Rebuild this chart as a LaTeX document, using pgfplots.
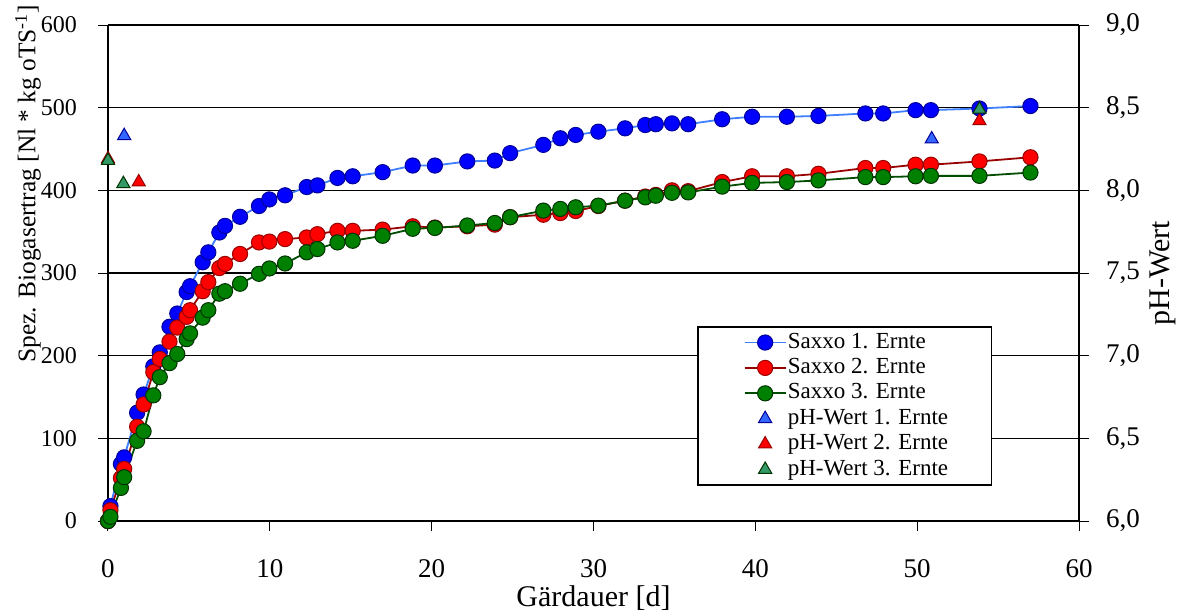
\documentclass[border=0pt]{standalone}
\usepackage{fontspec}
\setmainfont{Liberation Serif}
\usepackage{pgfplots}
\pgfplotsset{compat=1.18}
\definecolor{bline}{HTML}{3F7FFF}
\definecolor{bfill}{HTML}{0000FF}
\definecolor{bdraw}{HTML}{000099}
\definecolor{rline}{HTML}{990000}
\definecolor{rfill}{HTML}{FF0000}
\definecolor{rdraw}{HTML}{990000}
\definecolor{gline}{HTML}{004D00}
\definecolor{gfill}{HTML}{008000}
\definecolor{gdraw}{HTML}{003300}
\definecolor{pbfill}{HTML}{3366FF}
\definecolor{pgfillc}{HTML}{339966}
\begin{document}
\begin{tikzpicture}[font=\fontsize{11.5}{13}\selectfont]
\pgfplotsset{
  myaxis/.style={
    scale only axis, width=485.5pt, height=248pt,
    xmin=0, xmax=60,
    tick align=outside, major tick length=5pt,
    tick style={black, line width=0.5pt},
    axis line style={black, line width=1pt},
    /pgf/number format/assume math mode=true,
    clip=false,
  }
}
\begin{axis}[myaxis,
  ymin=0, ymax=600,
  axis x line*=bottom, axis y line*=left,
  xtick={0,10,...,60}, ytick={0,100,...,600},
  ymajorgrids, major grid style={black, line width=0.6pt},
  xticklabel style={yshift=-10.75pt, font=\fontsize{13.5}{15}\selectfont},
  yticklabel style={xshift=-7pt, font=\fontsize{12}{14}\selectfont},
  xlabel={Gärdauer [d]},
  xlabel style={at={(axis description cs:0.5,0)}, anchor=center, yshift=-38.5pt, font=\fontsize{15}{17}\selectfont},
  ylabel={Spez. Biogasertrag [Nl * kg oTS\textsuperscript{-1}]},
  ylabel style={at={(axis description cs:0,0.68)}, anchor=center, yshift=40pt, font=\fontsize{12.7}{15}\selectfont},
]
\addplot[color=bline, line width=0.9pt, mark=*, mark size=3.8pt, mark options={fill=bfill, draw=bdraw, line width=0.5pt}] coordinates {
(0,0) (0.15,18) (0.8,69) (1.0,77) (1.8,131) (2.2,153) (2.8,187) (3.2,204) (3.8,235) (4.28,251) (4.86,277) (5.07,284) (5.85,313) (6.2,325) (6.88,349) (7.23,357) (8.16,368) (9.33,381) (9.97,389) (10.94,394) (12.28,404) (12.94,406) (14.18,415) (15.12,417) (16.97,422) (18.83,430) (20.2,430) (22.2,435) (23.9,436) (24.85,445) (26.9,455) (27.95,463) (28.9,467) (30.3,471) (31.95,475) (33.2,479) (33.85,480) (34.85,481) (35.85,480) (37.95,486) (39.8,489) (41.95,489) (43.9,490) (46.8,493) (47.9,493) (49.9,497) (50.85,497) (53.85,499) (57.0,502)
};
\addplot[color=rline, line width=0.9pt, mark=*, mark size=3.8pt, mark options={fill=rfill, draw=rdraw, line width=0.5pt}] coordinates {
(0,0) (0.15,13) (0.8,52) (1.0,63) (1.8,114) (2.2,141) (2.8,180) (3.2,196) (3.8,217) (4.28,234) (4.86,247) (5.07,255) (5.85,278) (6.2,289) (6.88,306) (7.23,311) (8.16,323) (9.33,337) (9.97,338) (10.94,341) (12.28,343) (12.94,347) (14.18,351) (15.12,351) (16.97,352.5) (18.83,356.5) (20.2,355) (22.2,356.5) (23.9,358.5) (24.85,367.5) (26.9,370.5) (27.95,372.5) (28.9,375) (30.3,381) (31.95,387.5) (33.2,392.5) (33.85,394.5) (34.85,400) (35.85,399) (37.95,410) (39.8,417) (41.95,417) (43.9,420) (46.8,427) (47.9,427) (49.9,431) (50.85,431) (53.85,435) (57.0,440)
};
\addplot[color=gline, line width=0.9pt, mark=*, mark size=3.8pt, mark options={fill=gfill, draw=gdraw, line width=0.5pt}] coordinates {
(0,0) (0.15,5) (0.8,40) (1.0,53) (1.8,97) (2.2,108.5) (2.8,152) (3.2,174) (3.8,191) (4.28,202) (4.86,220) (5.07,227) (5.85,246) (6.2,255) (6.88,275) (7.23,278) (8.16,287) (9.33,299) (9.97,305.5) (10.94,311.5) (12.28,325) (12.94,329) (14.18,337) (15.12,339) (16.97,345) (18.83,353.5) (20.2,354.5) (22.2,357.5) (23.9,360.5) (24.85,367.5) (26.9,375.5) (27.95,377.5) (28.9,379.5) (30.3,381.5) (31.95,387.5) (33.2,391.5) (33.85,393.5) (34.85,397) (35.85,397.5) (37.95,404.5) (39.8,409) (41.95,410) (43.9,412) (46.8,416) (47.9,416) (49.9,417) (50.85,417.5) (53.85,417.5) (57.0,421.5)
};
\end{axis}
\begin{axis}[myaxis,
  ymin=6, ymax=9,
  axis y line*=right, axis x line=none,
  ytick={6,6.5,...,9},
  yticklabel style={/pgf/number format/.cd, fixed, fixed zerofill, precision=1, use comma, /tikz/.cd, xshift=5pt, font=\fontsize{13.5}{15}\selectfont},
  ylabel={pH-Wert},
  ylabel style={at={(axis description cs:1,0.5)}, anchor=center, yshift=-42pt, font=\fontsize{15}{17}\selectfont},
  legend image code/.code={\path (-2pt,0pt); \draw[mark repeat=2,mark phase=2,#1] plot coordinates {(0pt,0pt) (10.25pt,0pt) (20.5pt,0pt)};},
  legend cell align=left,
  legend style={at={(axis description cs:0.6066,0.393)}, anchor=north west, draw=black, line width=0.75pt, inner xsep=21pt, inner ysep=1.5pt, row sep=0pt,
    nodes={inner sep=0.6pt, text height=8.5pt, text depth=3pt, line width=0.5pt},
    font=\fontsize{11.5}{13}\selectfont},
]
\addlegendimage{color=bline, line width=0.9pt, mark=*, mark size=3.8pt, mark options={fill=bfill, draw=bdraw, line width=0.5pt}}
\addlegendentry{Saxxo 1. Ernte}
\addlegendimage{color=rline, line width=0.9pt, mark=*, mark size=3.8pt, mark options={fill=rfill, draw=rdraw, line width=0.5pt}}
\addlegendentry{Saxxo 2. Ernte}
\addlegendimage{color=gline, line width=0.9pt, mark=*, mark size=3.8pt, mark options={fill=gfill, draw=gdraw, line width=0.5pt}}
\addlegendentry{Saxxo 3. Ernte}
\addplot[only marks, mark=triangle*, mark size=3.8pt, mark options={fill=pbfill, draw=bdraw, line width=0.5pt}] coordinates {
(1.0,8.33) (50.9,8.31)
};
\addlegendentry{pH-Wert 1. Ernte}
\addplot[only marks, mark=triangle*, mark size=3.8pt, mark options={fill=rfill, draw=rdraw, line width=0.5pt}] coordinates {
(0,8.19) (1.9,8.05) (53.85,8.42)
};
\addlegendentry{pH-Wert 2. Ernte}
\addplot[only marks, mark=triangle*, mark size=3.8pt, mark options={fill=pgfillc, draw=gdraw, line width=0.5pt}] coordinates {
(0,8.18) (0.95,8.04) (53.85,8.49)
};
\addlegendentry{pH-Wert 3. Ernte}
\end{axis}
\pgfresetboundingbox
\useasboundingbox (-54pt,-45.5pt) rectangle (534.5pt,260.5pt);
\end{tikzpicture}
\end{document}
